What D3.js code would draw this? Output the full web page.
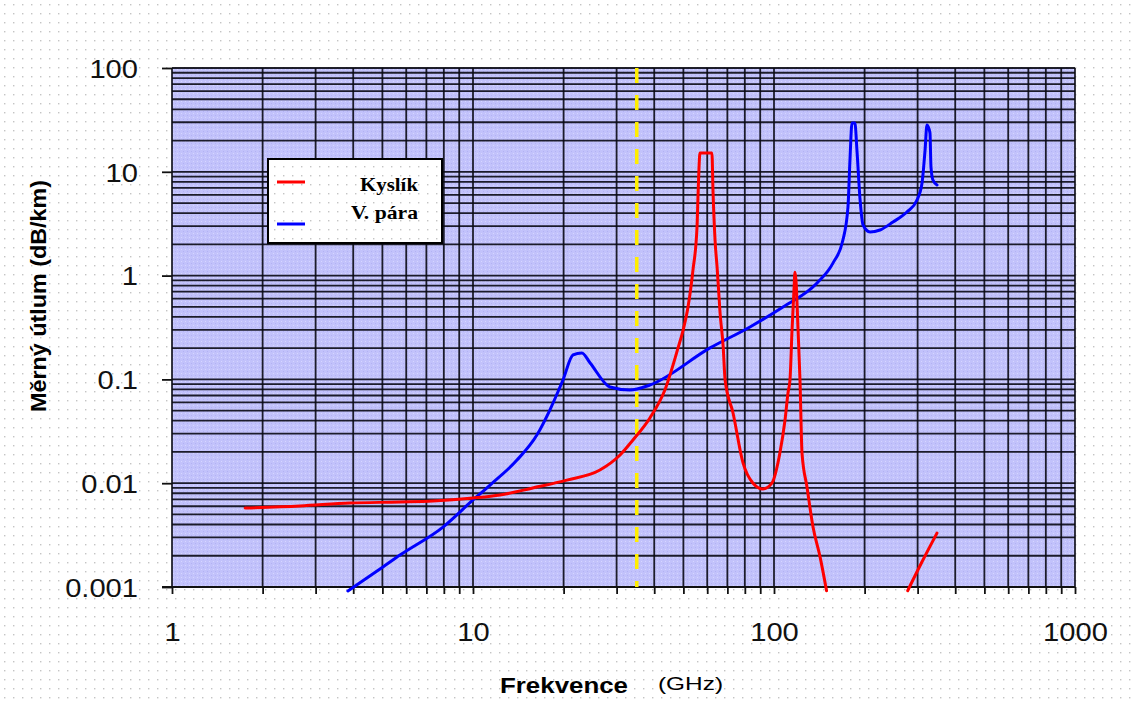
<!DOCTYPE html>
<html>
<head>
<meta charset="utf-8">
<script src="https://cdn.jsdelivr.net/npm/d3@7"></script>
<style>
  html, body { margin: 0; padding: 0; background: #fff; }
  svg { display: block; }
</style>
</head>
<body>
<svg id="chart" width="1132" height="701"></svg>
<script>
// Specific attenuation of oxygen (Kyslík) and water vapour (V. pára) vs. frequency
const xTickValues = [1, 10, 100, 1000];
const yTickValues = [0.001, 0.01, 0.1, 1, 10, 100];
const yTickLabels = ["0.001", "0.01", "0.1", "1", "10", "100"];
const markerFreq = 35; // GHz, dashed marker

// Oxygen, main branch (GHz, dB/km)
const oxygenFreq = [1.75, 2.66, 3.90, 5.72, 7.36, 10.0, 12.3, 15.8, 20.5, 26.4, 30.8, 34.0, 38.7, 43.4,
  48.0, 49.9, 51.8, 53.8, 55.5, 55.9, 56.8, 62.2, 62.7, 63.7, 64.7, 66.2, 67.8, 68.8, 73.1, 78.9,
  85.2, 91.9, 98.4, 104.6, 108.8, 111.3, 113.0, 114.8, 116.5, 117.4, 118.3, 120.2, 122.0, 123.9,
  128.7, 134.8, 142.3, 149.5];
const oxygenAtt = [0.00577, 0.00603, 0.00644, 0.00659, 0.00674, 0.0072, 0.0077, 0.0090, 0.0107, 0.0134,
  0.0187, 0.0261, 0.0425, 0.079, 0.201, 0.299, 0.498, 1.13, 2.94, 5.72, 15.2, 15.2, 6.68, 2.20,
  1.21, 0.436, 0.205, 0.0986, 0.0475, 0.0157, 0.0100, 0.0088, 0.0100, 0.0195, 0.0406, 0.074, 0.0986,
  0.299, 0.726, 1.08, 0.907, 0.299, 0.0986, 0.0195, 0.0092, 0.00378, 0.00194, 0.00092];

// Oxygen, rising branch above 270 GHz
const oxygenTailFreq = [278, 310, 348];
const oxygenTailAtt = [0.00092, 0.00174, 0.00331];

// Water vapour
const vaporFreq = [3.84, 4.44, 5.02, 5.72, 7.95, 10.0, 11.4, 14.0, 16.3, 18.0, 19.9, 21.5, 23.0, 24.5,
  28.5, 33.2, 38.7, 61.3, 83.2, 107.1, 139.0, 157.0, 169.4, 176.1, 178.8, 181.6, 185.7, 188.6,
  193.2, 197.6, 208.5, 225.0, 248.5, 276.4, 298.6, 310.3, 317.6, 322.2, 329.7, 332.3, 337.3, 348];
const vaporAtt = [0.000915, 0.00122, 0.00156, 0.00203, 0.00378, 0.00689, 0.0096, 0.0167, 0.0291, 0.0507,
  0.0986, 0.172, 0.180, 0.144, 0.0845, 0.079, 0.0883, 0.201, 0.320, 0.498, 0.848, 1.32, 2.20, 4.58,
  13.0, 29.5, 29.5, 16.2, 5.35, 3.07, 2.63, 2.75, 3.28, 4.10, 5.35, 7.80, 16.2, 28.2, 23.7, 11.1,
  8.34, 7.46];

const svg = d3.select("#chart");
const W = 1132, H = 701;
const plot = { left: 172, right: 1075, top: 68, bottom: 587 };
const SANS = "Liberation Sans, Arial, sans-serif";
const SERIF = "Liberation Serif, Times New Roman, serif";

const x = d3.scaleLog().domain([1, 1000]).range([plot.left, plot.right]);
const y = d3.scaleLog().domain([0.001, 100]).range([plot.bottom, plot.top]);

// Widen a text element horizontally by a factor
function widen(sel, k) {
  sel.each(function () {
    const w = this.getComputedTextLength();
    d3.select(this).attr("textLength", w * k).attr("lengthAdjust", "spacingAndGlyphs");
  });
}

// Patterns: dotted page background, textured plot fill
const defs = svg.append("defs");
const pagePat = defs.append("pattern").attr("id", "pageDots")
  .attr("width", 9).attr("height", 9).attr("patternUnits", "userSpaceOnUse");
pagePat.append("rect").attr("width", 9).attr("height", 9).attr("fill", "#fff");
pagePat.append("rect").attr("x", 4).attr("y", 4).attr("width", 1.4).attr("height", 1.4).attr("fill", "#c4c4c4");

const plotPat = defs.append("pattern").attr("id", "plotFill")
  .attr("width", 4).attr("height", 4).attr("patternUnits", "userSpaceOnUse");
plotPat.append("rect").attr("width", 4).attr("height", 4).attr("fill", "#c2c2fb");
plotPat.append("rect").attr("x", 1).attr("y", 1).attr("width", 1).attr("height", 1).attr("fill", "#d6d6ff");
plotPat.append("rect").attr("x", 3).attr("y", 3).attr("width", 1).attr("height", 1).attr("fill", "#b2b2f4");

svg.append("rect").attr("width", W).attr("height", H).attr("fill", "url(#pageDots)");

// Plot area
svg.append("rect")
  .attr("x", plot.left).attr("y", plot.top)
  .attr("width", plot.right - plot.left).attr("height", plot.bottom - plot.top)
  .attr("fill", "url(#plotFill)");

// Log grid values: 1..9 per decade
function logGrid(lo, hi) {
  const vals = [];
  for (let e = lo; e < hi; e++) {
    for (let m = 1; m <= 9; m++) vals.push(m * Math.pow(10, e));
  }
  vals.push(Math.pow(10, hi));
  return vals;
}
const xGrid = logGrid(0, 3);
const yGrid = logGrid(-3, 2);

const grid = svg.append("g").attr("stroke", "#0a0a14").attr("stroke-width", 1.8).attr("stroke-opacity", 0.9);
grid.selectAll("line.h").data(yGrid).join("line").attr("class", "h")
  .attr("x1", plot.left).attr("x2", plot.right)
  .attr("y1", d => y(d)).attr("y2", d => y(d));
grid.selectAll("line.v").data(xGrid).join("line").attr("class", "v")
  .attr("y1", plot.top).attr("y2", plot.bottom)
  .attr("x1", d => x(d)).attr("x2", d => x(d));

// Axes
const yAxis = d3.axisLeft(y).tickValues(yTickValues)
  .tickFormat((d, i) => yTickLabels[i]).tickSize(10).tickPadding(24);
const yG = svg.append("g").attr("transform", `translate(${plot.left},0)`).call(yAxis);
yG.select(".domain").remove();
yG.selectAll(".tick line").attr("stroke", "#111").attr("stroke-width", 1.8);
yG.selectAll(".tick text").attr("font-family", SANS)
  .attr("font-size", 26).attr("fill", "#111").attr("dy", "0.36em");
widen(yG.selectAll(".tick text"), 1.12);

const xAxis = d3.axisBottom(x).tickValues(xGrid)
  .tickFormat(d => xTickValues.includes(d) ? String(d) : "").tickSize(7);
const xG = svg.append("g").attr("transform", `translate(0,${plot.bottom})`).call(xAxis);
xG.select(".domain").remove();
xG.selectAll(".tick line").attr("stroke", "#111").attr("stroke-width", 1.8);
xG.selectAll(".tick text").attr("font-family", SANS)
  .attr("font-size", 26).attr("fill", "#111").attr("y", 54).attr("dy", null);
widen(xG.selectAll(".tick text").filter(function () { return this.textContent !== ""; }), 1.12);

// Bottom axis line extends to the left tick
svg.append("line").attr("x1", plot.left - 10).attr("x2", plot.right)
  .attr("y1", plot.bottom).attr("y2", plot.bottom)
  .attr("stroke", "#111").attr("stroke-width", 1.8);

// Dashed marker line
svg.append("line")
  .attr("x1", x(markerFreq)).attr("x2", x(markerFreq))
  .attr("y1", plot.top).attr("y2", plot.bottom)
  .attr("stroke", "#ffee00").attr("stroke-width", 3.5)
  .attr("stroke-dasharray", "15,12");

// Curves
const line = d3.line().x(d => x(d[0])).y(d => y(d[1])).curve(d3.curveMonotoneX);
const zip = (a, b) => a.map((v, i) => [v, b[i]]);

svg.append("path").datum(zip(vaporFreq, vaporAtt))
  .attr("d", line).attr("fill", "none").attr("stroke", "#0000ff")
  .attr("stroke-width", 3).attr("stroke-linejoin", "round").attr("stroke-linecap", "round");
svg.append("path").datum(zip(oxygenFreq, oxygenAtt))
  .attr("d", line).attr("fill", "none").attr("stroke", "#ff0000")
  .attr("stroke-width", 3).attr("stroke-linejoin", "round").attr("stroke-linecap", "round");
svg.append("path").datum(zip(oxygenTailFreq, oxygenTailAtt))
  .attr("d", line).attr("fill", "none").attr("stroke", "#ff0000")
  .attr("stroke-width", 3).attr("stroke-linecap", "round");

// Legend
const legend = svg.append("g");
legend.append("rect").attr("x", 268).attr("y", 159).attr("width", 174).attr("height", 84)
  .attr("fill", "url(#pageDots)").attr("stroke", "#000").attr("stroke-width", 2);
const legendItems = [
  { name: "Kyslík", color: "#ff0000", ly: 182, ty: 191, len: 58 },
  { name: "V. pára", color: "#0000ff", ly: 224, ty: 219, len: 67 }
];
legendItems.forEach(it => {
  legend.append("line").attr("x1", 277).attr("x2", 305).attr("y1", it.ly).attr("y2", it.ly)
    .attr("stroke", it.color).attr("stroke-width", 3);
  legend.append("text").attr("x", 418).attr("y", it.ty).attr("text-anchor", "end")
    .attr("font-family", SERIF).attr("font-weight", "bold")
    .attr("font-size", 18).attr("fill", "#000")
    .attr("textLength", it.len).attr("lengthAdjust", "spacingAndGlyphs")
    .text(it.name);
});

// Axis titles
svg.append("text")
  .attr("transform", "translate(46,296) rotate(-90)")
  .attr("text-anchor", "middle")
  .attr("font-family", SANS).attr("font-weight", "bold")
  .attr("font-size", 22).attr("fill", "#000")
  .attr("textLength", 232).attr("lengthAdjust", "spacingAndGlyphs")
  .text("Měrný útlum (dB/km)");

svg.append("text").attr("x", 500).attr("y", 693)
  .attr("font-family", SANS).attr("font-weight", "bold")
  .attr("font-size", 22).attr("fill", "#000")
  .attr("textLength", 128).attr("lengthAdjust", "spacingAndGlyphs")
  .text("Frekvence");
svg.append("text").attr("x", 658).attr("y", 690)
  .attr("font-family", SANS)
  .attr("font-size", 19).attr("fill", "#000")
  .attr("textLength", 65).attr("lengthAdjust", "spacingAndGlyphs")
  .text("(GHz)");
</script>
</body>
</html>
